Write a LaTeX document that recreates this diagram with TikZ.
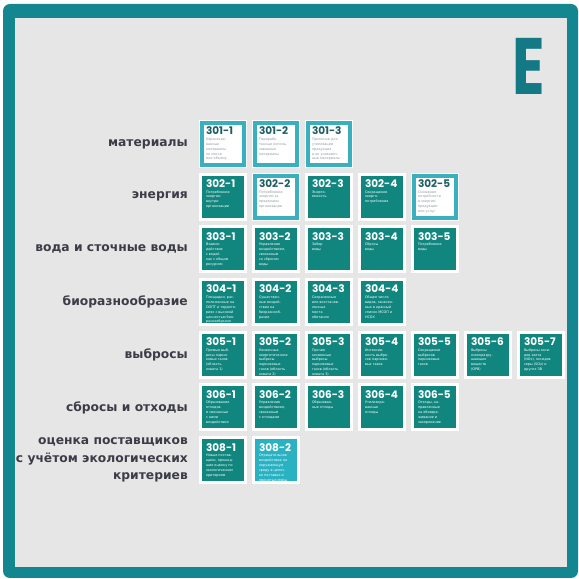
\documentclass[tikz,border=0pt]{standalone}
\usepackage{fontspec}
\setmainfont{DejaVu Sans}
\newfontfamily\numfont{Poppins}
\newfontfamily\letterfont{Poppins}[FakeStretch=0.75]
\usepackage{xcolor}
\usepackage{tikz}
\usetikzlibrary{positioning}

\definecolor{framecol}{HTML}{13868F}
\definecolor{bgcol}{HTML}{E6E6E6}
\definecolor{tealdk}{HTML}{11867F}
\definecolor{tealbr}{HTML}{3AAFBD}
\definecolor{tealcy}{HTML}{2BB2C2}
\definecolor{letterc}{HTML}{137985}
\definecolor{labelc}{HTML}{3B3C47}
\definecolor{inkc}{HTML}{1E5E63}
\definecolor{descc}{HTML}{8D9B9D}
\colorlet{headc}{white}

\tikzset{
  tile/.style={inner sep=0pt, minimum size=45pt, draw=white, line width=3pt, text=white,
    execute at begin node={\colorlet{headc}{white}}},
  dark/.style={tile, fill=tealdk},
  light/.style={tile, fill=tealcy},
  outline/.style={inner sep=0pt, minimum size=42pt, fill=white, draw=white, line width=1pt,
    double=tealbr, double distance=4pt, text=descc,
    execute at begin node={\colorlet{headc}{inkc}}},
  rowlabel/.style={font=\bfseries\fontsize{12.3}{17.5}\selectfont, text=labelc, align=right, inner sep=0pt}
}

\newcommand{\disclosure}[2]{\parbox[c][34pt][t]{34pt}{\raggedright
  \leavevmode{\color{headc}\numfont\bfseries\fontsize{10.5}{11}\selectfont #1}\par
  \vspace{0.6pt}\fontsize{3.4}{4.9}\selectfont #2}}

\begin{document}
\begin{tikzpicture}[node distance=52.7pt and 53pt, on grid]
        \useasboundingbox (0,0) rectangle (579pt,579pt);
        \fill[white] (0,0) rectangle (579pt,579pt);
        \fill[framecol, rounded corners=7pt] (3pt,1pt) rectangle (578pt,575pt);
        \fill[bgcol] (15pt,12pt) rectangle (567pt,561pt);
        \node[font=\letterfont\bfseries\fontsize{80}{80}\selectfont, text=letterc, inner sep=0pt] (gri) at (528.5pt,513pt) {E};

        \node[outline] (3011) at (223pt,435pt) {\disclosure{301-1}{Израсходо-\\ванные\\материалы\\по массе\\или объему}};
        \node[outline, right = of 3011] (3012) {\disclosure{301-2}{Перерабо-\\танные исполь-\\зованные\\материалы}};
        \node[outline, right = of 3012] (3013) {\disclosure{301-3}{Принятые для\\утилизации\\продукция\\и их упаковоч-\\ные материалы}};

        \node[dark, below = of 3011] (3021) {\disclosure{302-1}{Потребление\\энергии\\внутри\\организации}};
        \node[outline, right = of 3021] (3022) {\disclosure{302-2}{Потребление\\энергии за\\пределами\\организации}};
        \node[dark, right = of 3022] (3023) {\disclosure{302-3}{Энерго-\\емкость}};
        \node[dark, right = of 3023] (3024) {\disclosure{302-4}{Сокращение\\энерго-\\потребления}};
        \node[outline, right = of 3024] (3025) {\disclosure{302-5}{Снижение\\потребности\\в энергии\\продукции\\или услуг}};

        \node[dark, below = of 3021] (3031) {\disclosure{303-1}{Взаимо-\\действие\\с водой\\как с общим\\ресурсом}};
        \node[dark, right = of 3031] (3032) {\disclosure{303-2}{Управление\\воздействием,\\связанным\\со сбросом\\воды}};
        \node[dark, right = of 3032] (3033) {\disclosure{303-3}{Забор\\воды}};
        \node[dark, right = of 3033] (3034) {\disclosure{303-4}{Сбросы\\воды}};
        \node[dark, right = of 3034] (3035) {\disclosure{303-5}{Потребление\\воды}};

        \node[dark, below = of 3031] (3041) {\disclosure{304-1}{Площадки, рас-\\положенные на\\ООПТ и террито-\\риях с высокой\\ценностью био-\\разнообразия}};
        \node[dark, right = of 3041] (3042) {\disclosure{304-2}{Существен-\\ные воздей-\\ствия на\\биоразнооб-\\разие}};
        \node[dark, right = of 3042] (3043) {\disclosure{304-3}{Сохраненные\\или восстанов-\\ленные\\места\\обитания}};
        \node[dark, right = of 3043] (3044) {\disclosure{304-4}{Общее число\\видов, занесен-\\ных в красный\\список МСОП и\\НСОХ}};

        \node[dark, below = of 3041] (3051) {\disclosure{305-1}{Прямые выб-\\росы парни-\\ковых газов\\(область\\охвата 1)}};
        \node[dark, right = of 3051] (3052) {\disclosure{305-2}{Косвенные\\энергетические\\выбросы\\парниковых\\газов (область\\охвата 2)}};
        \node[dark, right = of 3052] (3053) {\disclosure{305-3}{Прочие\\косвенные\\выбросы\\парниковых\\газов (область\\охвата 3)}};
        \node[dark, right = of 3053] (3054) {\disclosure{305-4}{Интенсив-\\ность выбро-\\сов парнико-\\вых газов}};
        \node[dark, right = of 3054] (3055) {\disclosure{305-5}{Сокращение\\выбросов\\парниковых\\газов}};
        \node[dark, right = of 3055] (3056) {\disclosure{305-6}{Выбросы\\озоноразру-\\шающих\\веществ\\(ОРВ)}};
        \node[dark, right = of 3056] (3057) {\disclosure{305-7}{Выбросы окси-\\дов азота\\(NOx), оксидов\\серы (SOx) и\\других ЗВ}};

        \node[dark, below = of 3051] (3061) {\disclosure{306-1}{Образование\\отходов\\и связанные\\с ними\\воздействия}};
        \node[dark, right = of 3061] (3062) {\disclosure{306-2}{Управление\\воздействием,\\связанным\\с отходами}};
        \node[dark, right = of 3062] (3063) {\disclosure{306-3}{Образован-\\ные отходы}};
        \node[dark, right = of 3063] (3064) {\disclosure{306-4}{Утилизиро-\\ванные\\отходы}};
        \node[dark, right = of 3064] (3065) {\disclosure{306-5}{Отходы, на-\\правленные\\на обезвре-\\живание и\\захоронение}};

        \node[dark, below = of 3061] (3081) {\disclosure{308-1}{Новые постав-\\щики, прошед-\\шие оценку по\\экологическим\\критериям}};
        \node[light, right = of 3081] (3082) {\disclosure{308-2}{Отрицательное\\воздействие на\\окружающую\\среду в цепоч-\\ке поставок и\\принятые меры}};

        \node[rowlabel, left = 35pt of 3011, anchor=east] (materials) {материалы};
        \node[rowlabel, left = 35pt of 3021, anchor=east] (energy) {энергия};
        \node[rowlabel, left = 35pt of 3031, anchor=east] (water) {вода и сточные воды};
        \node[rowlabel, left = 35pt of 3041, anchor=east] (biodiv) {биоразнообразие};
        \node[rowlabel, left = 35pt of 3051, anchor=east] (emissions) {выбросы};
        \node[rowlabel, left = 35pt of 3061, anchor=east] (waste) {сбросы и отходы};
        \node[rowlabel, left = 35pt of 3081, anchor=east] (suppliers) {оценка поставщиков\\с учётом экологических\\критериев};
    \end{tikzpicture}
\end{document}
